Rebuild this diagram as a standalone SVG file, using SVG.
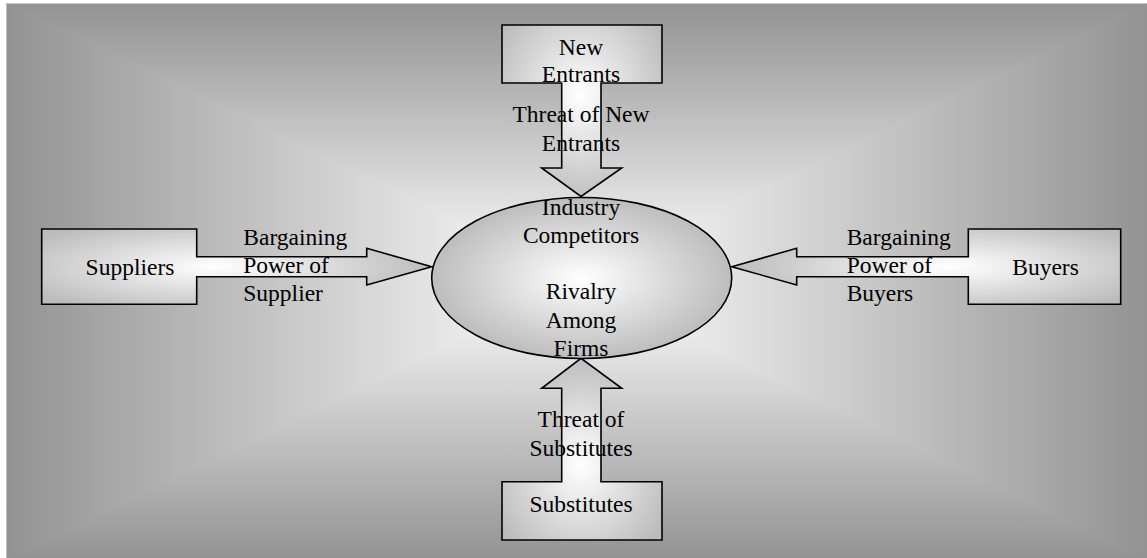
<svg xmlns="http://www.w3.org/2000/svg" width="1147" height="558" viewBox="0 0 1147 558">
  <defs>
    <!-- background: rectangular gradient built from four triangles -->
    <linearGradient id="bgTop" gradientUnits="userSpaceOnUse" x1="0" y1="4" x2="0" y2="281">
      <stop offset="0" stop-color="#939393"/>
      <stop offset="1" stop-color="#ffffff"/>
    </linearGradient>
    <linearGradient id="bgBottom" gradientUnits="userSpaceOnUse" x1="0" y1="558" x2="0" y2="281">
      <stop offset="0" stop-color="#939393"/>
      <stop offset="1" stop-color="#ffffff"/>
    </linearGradient>
    <linearGradient id="bgLeft" gradientUnits="userSpaceOnUse" x1="7" y1="0" x2="577" y2="0">
      <stop offset="0" stop-color="#939393"/>
      <stop offset="1" stop-color="#ffffff"/>
    </linearGradient>
    <linearGradient id="bgRight" gradientUnits="userSpaceOnUse" x1="1147" y1="0" x2="577" y2="0">
      <stop offset="0" stop-color="#939393"/>
      <stop offset="1" stop-color="#ffffff"/>
    </linearGradient>
    <radialGradient id="ellFill" cx="0.5" cy="0.5" r="0.5">
      <stop offset="0" stop-color="#ffffff"/>
      <stop offset="1" stop-color="#bdbdbd"/>
    </radialGradient>
    <radialGradient id="hFill" gradientUnits="userSpaceOnUse" cx="0" cy="0" r="1" gradientTransform="translate(0 266.7) scale(220 48)">
      <stop offset="0" stop-color="#ffffff"/>
      <stop offset="1" stop-color="#bcbcbc"/>
    </radialGradient>
    <radialGradient id="supFill" href="#hFill" gradientTransform="translate(215 266.7) scale(220 48)"/>
    <radialGradient id="buyFill" href="#hFill" gradientTransform="translate(950 266.7) scale(220 48)"/>
    <radialGradient id="newFill" gradientUnits="userSpaceOnUse" cx="0" cy="0" r="1" gradientTransform="translate(581 95) scale(95 110)">
      <stop offset="0" stop-color="#ffffff"/>
      <stop offset="1" stop-color="#bcbcbc"/>
    </radialGradient>
    <radialGradient id="subFill" href="#newFill" gradientTransform="translate(581 465) scale(95 110)"/>
  </defs>
  <style>
    .shape { stroke: #000000; stroke-width: 1.6; stroke-linejoin: miter; }
    .bg { stroke-width: 1.2; stroke-linejoin: round; }
    text { font-family: "Liberation Serif", "Times New Roman", serif; font-size: 23.5px; fill: #000000; }
    .c { text-anchor: middle; }
  </style>

  <!-- background panel -->
  <g id="background">
    <polygon class="bg" points="7,4 1147,4 577,281" fill="url(#bgTop)" stroke="url(#bgTop)"/>
    <polygon class="bg" points="7,558 1147,558 577,281" fill="url(#bgBottom)" stroke="url(#bgBottom)"/>
    <polygon class="bg" points="7,4 7,558 577,281" fill="url(#bgLeft)" stroke="url(#bgLeft)"/>
    <polygon class="bg" points="1147,4 1147,558 577,281" fill="url(#bgRight)" stroke="url(#bgRight)"/>
  </g>

  <!-- connectors: each force is a box with an attached arrow -->
  <g id="connectors">
    <g id="new-entrants">
      <polygon class="shape" fill="url(#newFill)" points="502,25 662,25 662,83 601,83 601,168 621.7,168 581,196.5 541.7,168 561.7,168 561.7,83 502,83"/>
      <text class="c" x="581" y="55">New</text>
      <text class="c" x="581" y="82">Entrants</text>
      <text class="c" x="581" y="122">Threat of New</text>
      <text class="c" x="581" y="150.5">Entrants</text>
    </g>
    <g id="suppliers">
      <polygon class="shape" fill="url(#supFill)" points="41.7,229 196.7,229 196.7,256.7 366.7,256.7 366.7,248.3 431.7,266.7 366.7,285 366.7,276.7 196.7,276.7 196.7,304.3 41.7,304.3"/>
      <text class="c" x="130" y="275">Suppliers</text>
      <text x="243.3" y="245">Bargaining</text>
      <text x="243.3" y="273.3">Power of</text>
      <text x="243.3" y="300.7">Supplier</text>
    </g>
    <g id="buyers">
      <polygon class="shape" fill="url(#buyFill)" points="1120.7,229 968.3,229 968.3,256.7 796.7,256.7 796.7,248.3 731.7,266.7 796.7,285 796.7,276.7 968.3,276.7 968.3,304.3 1120.7,304.3"/>
      <text class="c" x="1045.5" y="275">Buyers</text>
      <text x="846.7" y="245">Bargaining</text>
      <text x="846.7" y="273.3">Power of</text>
      <text x="846.7" y="300.7">Buyers</text>
    </g>
    <g id="substitutes">
      <polygon class="shape" fill="url(#subFill)" points="502,540 662,540 662,481.7 601,481.7 601,388.3 621.7,388.3 581,358.3 541.7,388.3 561.7,388.3 561.7,481.7 502,481.7"/>
      <text class="c" x="581" y="512">Substitutes</text>
      <text class="c" x="581" y="426.7">Threat of</text>
      <text class="c" x="581" y="456">Substitutes</text>
    </g>
  </g>

  <!-- central node -->
  <g id="industry-competitors">
    <ellipse class="shape" cx="581.7" cy="278" rx="150" ry="80.5" fill="url(#ellFill)"/>
    <text class="c" x="581" y="215">Industry</text>
    <text class="c" x="581" y="242.7">Competitors</text>
    <text class="c" x="581" y="299.3">Rivalry</text>
    <text class="c" x="581" y="327.7">Among</text>
    <text class="c" x="581" y="356.3">Firms</text>
  </g>
</svg>
